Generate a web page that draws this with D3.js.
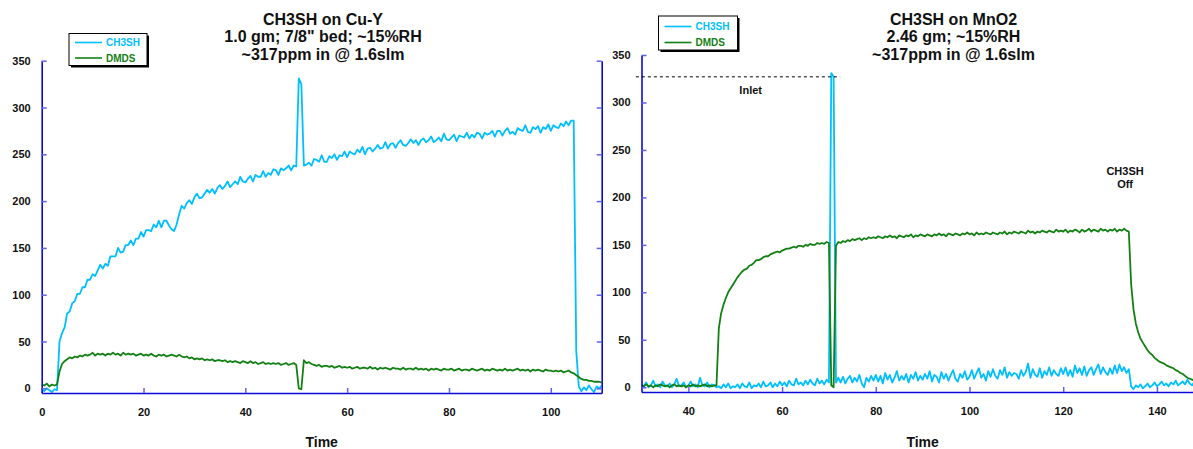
<!DOCTYPE html>
<html><head><meta charset="utf-8">
<script src="https://cdn.jsdelivr.net/npm/d3@7"></script>
<style>
body{margin:0;background:#fff;}
svg text{font-family:Arial,"Liberation Sans",Helvetica,sans-serif;font-weight:bold;}
</style></head>
<body><svg id="c" width="1193" height="449"></svg>
<script>
// ---------------- DATA ----------------
const seriesNames = ["CH3SH", "DMDS"];
const leftTitle = ["CH3SH on Cu-Y", "1.0 gm; 7/8\" bed; ~15%RH", "~317ppm in @ 1.6slm"];
const rightTitle = ["CH3SH on MnO2", "2.46 gm; ~15%RH", "~317ppm in @ 1.6slm"];
const xAxisLabel = "Time";
const yTicks = [0, 50, 100, 150, 200, 250, 300, 350];
const yDomain = [-5, 350];
const leftXDomain = [0, 110];
const rightXDomain = [30, 150];
const leftXTicks = [0, 20, 40, 60, 80, 100];
const rightXTicks = [40, 60, 80, 100, 120, 140];
const sampleStep = 0.5;
const leftStart = 0;
const rightStart = 30;

const leftCH3SH = [
 -1,-3,0,-2,-4,-1,-2,50,59,65,80,82,91,93,101,101,108,108,116,116,
 122,120,126,132,128,133,131,141,141,141,150,145,146,153,153,158,153,160,160,167,
 162,169,169,168,175,172,179,172,179,179,174,170,168,175,186,195,192,198,201,197,
 204,208,203,204,208,212,209,213,208,214,217,213,216,221,215,218,221,218,226,221,
 220,224,227,221,228,226,226,232,226,230,228,234,233,228,235,233,235,238,233,238,
 237,331,325,238,239,241,238,245,244,242,249,242,242,248,246,250,244,249,248,253,
 247,253,251,250,255,252,258,250,256,257,253,256,260,256,257,263,256,261,262,257,
 262,265,260,259,262,266,262,265,260,265,267,263,265,269,263,265,268,264,272,266,
 265,268,271,264,270,269,268,273,267,271,268,273,272,267,273,271,272,275,269,275,
 275,270,275,278,272,274,271,278,276,275,281,274,273,279,277,280,273,279,277,282,
 275,281,279,278,283,280,285,281,286,286,40,2,-3,1,-2,3,-1,-4,2,0,
 3
];
const leftDMDS = [
 4,3,5,2,4,3,4,18,26,29,31,33,32,34,33,35,34,36,35,36,
 38,35,37,36,37,35,37,36,38,36,37,35,38,36,37,36,37,35,36,37,
 35,36,35,37,35,34,36,35,36,34,35,36,35,34,36,34,33,34,32,33,
 31,32,31,32,30,31,30,31,29,30,30,29,30,28,29,28,29,28,27,29,
 28,27,29,27,28,26,27,28,26,27,26,27,26,27,25,26,27,25,26,27,
 25,0,-1,30,27,28,26,25,24,25,23,24,24,23,24,22,23,24,22,23,
 22,23,21,22,23,21,22,22,21,23,21,22,20,22,21,22,21,20,22,21,
 21,20,22,20,21,21,20,22,20,21,20,21,19,21,20,21,20,19,21,20,
 20,21,19,20,21,19,20,20,19,21,20,19,20,21,19,20,19,21,20,19,
 20,19,21,19,20,19,20,21,19,20,19,20,18,20,19,20,19,18,20,19,
 19,18,19,18,19,17,18,19,17,16,14,12,10,9,9,8,8,7,7,7,
 6
];
const rightCH3SH = [
 3,1,5,0,2,7,1,3,0,6,2,1,4,0,3,9,1,2,5,0,
 2,6,1,3,0,10,2,1,5,0,3,2,0,1,-1,3,0,4,-1,1,
 0,3,-1,4,1,0,5,-1,2,1,4,0,6,1,2,5,0,4,1,6,
 2,5,1,7,3,2,9,3,5,2,7,3,8,4,2,9,4,7,3,8,
 5,331,327,5,10,5,11,4,9,12,5,10,6,13,4,0,10,6,12,7,
 13,6,12,4,15,8,13,5,10,17,7,12,8,14,5,13,9,16,7,12,
 8,14,9,17,6,13,11,5,16,9,14,7,13,18,9,6,14,10,17,8,
 11,18,9,15,20,10,14,7,17,11,19,12,9,18,13,21,10,16,12,15,
 14,9,18,12,16,25,10,19,13,11,20,10,17,13,21,12,18,14,12,20,
 14,21,12,18,11,23,15,20,13,22,12,18,21,13,19,24,14,21,16,13,
 20,14,23,15,24,17,21,15,19,1,-2,2,0,3,-1,1,4,0,2,5,
 1,3,6,2,4,1,5,3,7,2,4,6,3,8,4,2,6,5,3,7,
 4
];
const rightDMDS = [
 2,1,3,1,2,0,2,1,3,2,1,2,0,2,3,1,2,1,2,0,
 2,1,3,1,2,1,2,3,1,2,1,2,2,62,78,87,94,100,104,108,
 112,116,119,122,124,125,128,129,131,134,134,135,137,138,138,140,141,142,143,142,
 144,145,146,146,147,148,147,149,149,148,150,149,151,150,150,152,151,152,151,153,
 152,2,0,149,153,152,154,153,155,154,156,155,156,157,155,157,156,158,157,158,
 157,159,158,157,159,158,160,158,159,157,160,159,158,160,159,161,158,160,159,161,
 160,159,161,160,159,161,160,162,160,161,159,162,161,160,162,161,160,162,161,163,
 161,162,160,163,161,162,161,163,162,161,163,162,161,163,162,164,161,163,162,164,
 163,162,164,163,162,165,163,164,162,164,163,165,164,163,165,164,163,166,164,165,
 164,166,163,165,164,166,165,163,166,164,165,167,164,166,165,164,167,165,166,164,
 166,165,167,164,166,165,167,165,164,108,82,67,58,51,47,43,39,36,34,31,
 29,27,26,25,23,22,21,20,18,17,15,14,12,10,9,8,7,6,6,5,
 5
];
const inletLevel = 327;
const inletSpan = [28.8, 72.4];
const inletText = "Inlet";
const inletTextAt = [53.3, 309];
const offText = ["CH3SH", "Off"];
const offTextAt = [133.2, 224];

// ---------------- STYLE ----------------
const FONT = 'Arial, "Liberation Sans", Helvetica, sans-serif';
const colors = {CH3SH: "#00bfff", DMDS: "#138013"};
const axisColor = "#0a0ad8";
const tickColor = "#6060f0";

const svg = d3.select("#c");

function styleAxis(sel) {
  sel.attr("font-family", FONT).attr("font-size", 11);
  sel.select(".domain").attr("stroke", axisColor).attr("stroke-width", 1.6);
  sel.selectAll(".tick line").attr("stroke", tickColor).attr("stroke-width", 1.5);
  sel.selectAll(".tick text").attr("fill", "#111").style("font-weight", "bold");
}

function drawPanel(p) {
  const x = d3.scaleLinear().domain(p.xDomain).range([p.left, p.right]);
  const y = d3.scaleLinear().domain(yDomain).range([p.bottom, p.top]);
  const g = svg.append("g");
  const clipId = "clip-" + p.id;
  svg.append("defs").append("clipPath").attr("id", clipId).append("rect")
    .attr("x", p.left).attr("y", p.top - 10)
    .attr("width", p.right - p.left).attr("height", p.bottom - p.top + 10);

  const line = d3.line().x(d => x(d[0])).y(d => y(d[1]));
  p.series.forEach(s => {
    const pts = s.values.map((v, i) => [p.start + i * sampleStep, v]);
    g.append("path").attr("d", line(pts))
      .attr("fill", "none").attr("stroke", colors[s.name])
      .attr("stroke-width", 1.8).attr("stroke-linejoin", "round")
      .attr("clip-path", `url(#${clipId})`);
  });

  g.append("g").attr("transform", `translate(0,${p.bottom})`)
    .call(d3.axisBottom(x).tickValues(p.xTicks).tickSize(-5).tickSizeOuter(0).tickPadding(15))
    .call(styleAxis);
  g.append("g").attr("transform", `translate(${p.left},0)`)
    .call(d3.axisLeft(y).tickValues(yTicks).tickSize(-5).tickSizeOuter(0).tickPadding(11))
    .call(styleAxis);
  g.append("g").attr("transform", `translate(${p.right},0)`)
    .call(d3.axisRight(y).tickValues(yTicks).tickSize(-5).tickSizeOuter(0).tickFormat(""))
    .call(styleAxis);

  const t = svg.append("text").attr("text-anchor", "middle").attr("font-size", 16).attr("fill", "#111");
  p.title.forEach((s, i) => t.append("tspan").attr("x", p.titleX).attr("y", 25 + i * 17.3).text(s));

  svg.append("text").attr("x", (p.left + p.right) / 2).attr("y", 447)
    .attr("text-anchor", "middle").attr("font-size", 14).attr("fill", "#111").text(xAxisLabel);

  const L = p.legend;
  svg.append("rect").attr("x", L.x + 2).attr("y", L.y + 2).attr("width", L.w).attr("height", L.h).attr("fill", "#000");
  svg.append("rect").attr("x", L.x).attr("y", L.y).attr("width", L.w).attr("height", L.h)
    .attr("fill", "#fff").attr("stroke", "#000").attr("stroke-width", 1);
  seriesNames.forEach((n, i) => {
    const yy = L.y + L.row0 + i * L.gap;
    svg.append("line").attr("x1", L.x + 6).attr("x2", L.x + 33).attr("y1", yy).attr("y2", yy)
      .attr("stroke", colors[n]).attr("stroke-width", 1.6);
    svg.append("text").attr("x", L.x + 37).attr("y", yy).attr("dy", "0.35em")
      .attr("font-size", 10).attr("fill", colors[n]).text(n);
  });
  return {x, y};
}

drawPanel({
  id: "L", left: 41.7, right: 601.7, top: 60.7, bottom: 393,
  xDomain: leftXDomain, xTicks: leftXTicks, start: leftStart,
  series: [{name: "CH3SH", values: leftCH3SH}, {name: "DMDS", values: leftDMDS}],
  title: leftTitle, titleX: 323,
  legend: {x: 69, y: 33.5, w: 78, h: 32, row0: 9, gap: 15.5}
});

const R = drawPanel({
  id: "R", left: 641.5, right: 1203.8, top: 55, bottom: 392,
  xDomain: rightXDomain, xTicks: rightXTicks, start: rightStart,
  series: [{name: "CH3SH", values: rightCH3SH}, {name: "DMDS", values: rightDMDS}],
  title: rightTitle, titleX: 953.5,
  legend: {x: 658.5, y: 16, w: 79, h: 34, row0: 10.5, gap: 16}
});

svg.append("line").attr("x1", R.x(inletSpan[0])).attr("x2", R.x(inletSpan[1]))
  .attr("y1", R.y(inletLevel)).attr("y2", R.y(inletLevel))
  .attr("stroke", "#000").attr("stroke-width", 1).attr("stroke-dasharray", "3,3");
svg.append("text").attr("x", R.x(inletTextAt[0])).attr("y", R.y(inletTextAt[1]))
  .attr("text-anchor", "middle").attr("font-size", 11).attr("fill", "#111").text(inletText);
const off = svg.append("text").attr("text-anchor", "middle").attr("font-size", 11).attr("fill", "#111");
offText.forEach((s, i) => off.append("tspan").attr("x", R.x(offTextAt[0])).attr("y", R.y(offTextAt[1]) + i * 13).text(s));
</script></body></html>
